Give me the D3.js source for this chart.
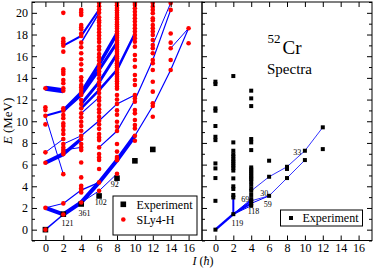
<!DOCTYPE html>
<html>
<head>
<meta charset="utf-8">
<script src="https://cdn.jsdelivr.net/npm/d3@7"></script>
<style>
  body { margin: 0; background: #fff; }
  svg text { font-family: "Liberation Serif", "DejaVu Serif", serif; }
</style>
</head>
<body>
<div id="chart"></div>
<script>
// spins on the x axis
const spins = [0, 2, 4, 6, 8, 10, 12, 14, 16];
const xTicks = [0, 2, 4, 6, 8, 10, 12, 14, 16];
const yTicks = [0, 2, 4, 6, 8, 10, 12, 14, 16, 18, 20];

// SLy4-H levels (MeV) for each spin
const sly0 = [13.04, 11.28, 11.03, 10.5, 9.71, 7.13, 6.17, 2.01, 0];
const sly2 = [20.0, 17.6, 17.37, 17.19, 16.97, 16.42, 14.79, 14.57, 14.36, 13.8, 13.5, 13.04, 12.82,
  11.19, 10.97, 10.57, 10.27, 9.8, 9.56, 9.19, 8.82, 8.36, 7.9, 7.59, 7.34, 7.13, 6.97, 5.12, 2.42, 1.4];
const sly4 = [20.27, 20.02, 19.8, 18.88, 18.67, 18.48, 18.1, 17.87, 17.25, 16.82, 16.27, 15.72, 15.25,
  14.73, 14.05, 13.74, 13.34, 13.13, 12.88, 12.63, 12.42, 11.96, 11.59, 11.19, 10.73, 10.36, 9.95, 9.56,
  9.12, 8.66, 8.36, 7.9, 7.59, 7.34, 6.2, 4.82, 4.05, 3.83, 3.65, 3.43, 2.51];
const sly6 = [20.9, 20.6, 20.3, 20.0, 19.6, 19.3, 19.1, 18.8, 18.5, 18.2, 17.9, 17.6, 17.3, 16.9, 16.6,
  16.2, 15.9, 15.6, 15.25, 14.9, 14.6, 14.3, 13.95, 13.6, 13.3, 12.95, 12.6, 12.2, 11.9, 11.5, 11.1, 10.8,
  10.4, 10.05, 9.7, 9.3, 8.82, 8.51, 8.26, 7.59, 6.97, 6.66, 6.42, 5.59, 4.36, 3.58];
const sly8 = [20.9, 20.7, 20.45, 20.25, 20.0, 19.8, 19.6, 19.4, 19.15, 18.95, 18.75, 18.55, 18.3, 18.1,
  17.9, 17.7, 17.45, 17.25, 17.05, 16.85, 16.6, 16.4, 16.2, 16.0, 15.8, 15.55, 15.35, 15.15, 14.95, 14.75,
  14.5, 14.3, 14.1, 13.9, 13.7, 13.45, 13.2, 13.0, 12.42, 12.0, 11.6, 11.0, 10.6, 9.95, 9.5, 9.1, 7.9,
  7.2, 6.7, 6.55, 6.4, 5.16];
const sly10 = [20.9, 20.73, 20.42, 20.1, 19.8, 19.5, 19.19, 18.88, 18.58, 18.27, 17.96, 17.65, 17.34,
  16.88, 16.11, 15.65, 15.03, 14.27, 13.8, 13.34, 12.42, 12.11, 11.8, 11.03, 10.73, 10.11, 9.65, 9.34,
  8.66, 8.2];
const sly12 = [20.9, 20.57, 20.27, 19.96, 19.5, 19.3, 18.88, 18.58, 18.27, 17.96, 17.5, 17.04, 16.73,
  16.27, 15.65, 15.35, 14.73, 13.65, 12.73, 11.65, 11.4, 10.42];
const sly14 = [20.9, 20.27, 18.1, 17.25, 16.73, 15.65, 14.73];
const sly16 = [18.58, 17.19];
const slyLevels = [sly0, sly2, sly4, sly6, sly8, sly10, sly12, sly14, sly16];

// experimental yrast levels shown in the left panel
const expYrastI = [0, 2, 4, 6, 8, 10, 12];
const expYrastE = [0, 1.43, 2.37, 3.11, 4.75, 6.35, 7.4];

// experimental spectrum (right panel)
const exp0 = [13.65, 13.43, 11.19, 10.97, 9.56, 8.57, 8.26, 6.11, 5.65, 4.76, 2.66, 0];
const exp2 = [14.17, 8.05, 7.28, 6.95, 6.75, 6.5, 6.3, 6.1, 5.9, 5.7, 5.45, 4.73, 4.0, 3.75, 3.2, 2.97, 1.43];
const exp4 = [12.82, 12.11, 11.4, 8.36, 8.05, 7.34, 5.74, 5.55, 5.37, 5.19, 5.0, 4.82, 4.66, 4.45, 4.14,
  3.8, 3.58, 3.2, 2.82, 2.66, 2.42, 2.2];
const exp6 = [6.36, 4.88, 3.12];
const exp8 = [5.8, 5.6, 4.76];
const exp10 = [7.28, 6.42];
const exp12 = [9.44, 7.43];
const expLevels = [exp0, exp2, exp4, exp6, exp8, exp10, exp12];

// transitions: [I, E] chains and stroke weight
const slyPaths = [
  [[[0, 0], [2, 1.4]], 1.5],
  [[[0, 2.01], [2, 1.4]], 4],
  [[[0, 2.01], [2, 2.42]], 1],
  [[[2, 1.4], [4, 2.51], [6, 4.36], [8, 6.4], [10, 8.66]], 4],
  [[[2, 2.42], [4, 3.65], [6, 4.36]], 1.2],
  [[[4, 2.51], [6, 3.58]], 1],
  [[[6, 3.58], [8, 5.16]], 1],
  [[[0, 6.17], [2, 6.97]], 4],
  [[[0, 7.13], [2, 8.36]], 1],
  [[[2, 6.97], [4, 8.36]], 3.5],
  [[[2, 7.34], [4, 7.59]], 1],
  [[[2, 7.9], [4, 8.66]], 1],
  [[[0, 10.5], [2, 5.12]], 1],
  [[[0, 10.5], [2, 10.97]], 2],
  [[[0, 13.04], [2, 12.82]], 5],
  [[[4, 8.66], [6, 10.05], [8, 11.6], [10, 12.42]], 1.2],
  [[[6, 7.59], [8, 9.1], [10, 11.96], [12, 15.65], [14, 20.27]], 1.2],
  [[[10, 8.66], [12, 11.4], [14, 14.73], [16, 18.58]], 1.2],
  [[[2, 10.97], [4, 12.63], [6, 15.25], [8, 18.1]], 3.5],
  [[[2, 10.97], [4, 12.42], [6, 14.73], [8, 17.25]], 3],
  [[[4, 11.59], [6, 13.6], [8, 16.2]], 3],
  [[[4, 11.19], [6, 12.88], [8, 14.75], [10, 18.1]], 2.5],
  [[[4, 10.73], [6, 12.2]], 1.2],
  [[[2, 16.97], [4, 17.87], [6, 20.3]], 2],
  [[[4, 17.25], [6, 20.0]], 1.5],
  [[[12, 17.04], [14, 20.9]], 1],
  [[[14, 16.73], [16, 18.58]], 1]
];
const expPaths = [
  [[[0, 0], [2, 1.43]], 2.5],
  [[[2, 1.43], [2, 3.0]], 2],
  [[[2, 1.43], [4, 2.42]], 2],
  [[[2, 1.43], [4, 2.66]], 1.5],
  [[[2, 1.43], [4, 2.82]], 1],
  [[[2, 1.43], [4, 2.2]], 1],
  [[[4, 2.42], [6, 3.12]], 1],
  [[[4, 2.66], [6, 3.12]], 0.8],
  [[[6, 3.12], [8, 4.76], [10, 6.42]], 0.8],
  [[[4, 3.58], [6, 4.88], [8, 5.8], [10, 7.28], [12, 9.44]], 0.8]
];

// B(E2) labels
const slyLabels = [[1.8, 0.3, "121"], [3.7, 1.3, "361"], [5.5, 2.3, "102"], [7.3, 3.9, "92"]];
const expLabels = [[1.8, 0.35, "119"], [3.6, 1.4, "118"], [2.9, 2.55, "69"], [5.0, 3.1, "30"], [5.4, 2.05, "59"], [8.7, 6.9, "33"]];

const W = 374, H = 268;
const svg = d3.select("#chart").append("svg").attr("width", W).attr("height", H);

const xL = d3.scaleLinear().domain([-1.5, 17.5]).range([32, 202]);
const xR = d3.scaleLinear().domain([-1.5, 17.5]).range([202, 372]);
const y = d3.scaleLinear().domain([-1, 21]).range([240.5, 2]);

const line = (xs) => d3.line().x(d => xs(d[0])).y(d => y(d[1]));

function frame(xs, showLabels) {
  const g = svg.append("g");
  const x0 = xs.range()[0], x1 = xs.range()[1];
  const minor = d3.range(-1, 22, 1);
  // bottom
  g.append("g").attr("transform", `translate(0,${y(-1)})`)
    .call(d3.axisBottom(xs).tickValues(xTicks).tickSize(-5).tickSizeOuter(0).tickPadding(2.5))
    .call(a => a.select(".domain").remove())
    .call(a => a.selectAll("text").style("font-size", "12px").attr("fill", "#000"));
  // top
  g.append("g").attr("transform", `translate(0,${y(21)})`)
    .call(d3.axisTop(xs).tickValues(xTicks).tickSize(-5).tickSizeOuter(0).tickFormat(""))
    .call(a => a.select(".domain").remove());
  // left
  g.append("g").attr("transform", `translate(${x0},0)`)
    .call(d3.axisLeft(y).tickValues(yTicks).tickSize(-5).tickSizeOuter(0).tickPadding(4)
      .tickFormat(showLabels ? d3.format("d") : ""))
    .call(a => a.select(".domain").remove())
    .call(a => a.selectAll("text").style("font-size", "12px").attr("fill", "#000"));
  g.append("g").attr("transform", `translate(${x0},0)`)
    .call(d3.axisLeft(y).tickValues(minor.filter(v => v % 2 !== 0)).tickSize(-3).tickSizeOuter(0).tickFormat(""))
    .call(a => a.select(".domain").remove());
  if (!showLabels) {
    g.append("g").attr("transform", `translate(${x1},0)`)
      .call(d3.axisRight(y).tickValues(yTicks).tickSize(-5).tickSizeOuter(0).tickFormat(""))
      .call(a => a.select(".domain").remove());
    g.append("g").attr("transform", `translate(${x1},0)`)
      .call(d3.axisRight(y).tickValues(minor.filter(v => v % 2 !== 0)).tickSize(-3).tickSizeOuter(0).tickFormat(""))
      .call(a => a.select(".domain").remove());
  }
  g.append("rect").attr("x", x0).attr("y", y(21)).attr("width", x1 - x0).attr("height", y(-1) - y(21))
    .attr("fill", "none").attr("stroke", "#000").attr("stroke-width", 1);
}

// left panel
svg.append("clipPath").attr("id", "clipL").append("rect")
  .attr("x", 32).attr("y", 2).attr("width", 170).attr("height", 238.5);
const gL = svg.append("g").attr("clip-path", "url(#clipL)");
gL.selectAll("path.tr").data(slyPaths).join("path")
  .attr("d", d => line(xL)(d[0])).attr("fill", "none")
  .attr("stroke", "#0000ff").attr("stroke-width", d => d[1]);
gL.selectAll("rect.exp").data(expYrastI).join("rect")
  .attr("x", (d) => xL(d) - 2.8).attr("y", (d, i) => y(expYrastE[i]) - 2.8)
  .attr("width", 5.6).attr("height", 5.6).attr("fill", "#000");
const slyPts = spins.flatMap((s, i) => slyLevels[i].map(e => [s, e]));
gL.selectAll("circle").data(slyPts).join("circle")
  .attr("cx", d => xL(d[0])).attr("cy", d => y(d[1])).attr("r", 2.3).attr("fill", "#ff0000");
svg.selectAll("text.bl").data(slyLabels).join("text")
  .attr("x", d => xL(d[0])).attr("y", d => y(d[1])).text(d => d[2])
  .style("font-size", "8px").attr("fill", "#000");

// right panel
const gR = svg.append("g");
gR.selectAll("path.tr").data(expPaths).join("path")
  .attr("d", d => line(xR)(d[0])).attr("fill", "none")
  .attr("stroke", "#0000ff").attr("stroke-width", d => d[1]);
const expPts = expYrastI.flatMap((s, i) => expLevels[i].map(e => [s, e]));
gR.selectAll("rect").data(expPts).join("rect")
  .attr("x", d => xR(d[0]) - 2).attr("y", d => y(d[1]) - 2)
  .attr("width", 4).attr("height", 4).attr("fill", "#000");
svg.selectAll("text.br").data(expLabels).join("text")
  .attr("x", d => xR(d[0])).attr("y", d => y(d[1])).text(d => d[2])
  .style("font-size", "8px").attr("fill", "#000");

frame(xL, true);
frame(xR, false);

// legends
const legL = svg.append("g");
legL.append("rect").attr("x", 113).attr("y", 196).attr("width", 84).attr("height", 39)
  .attr("fill", "#fff").attr("stroke", "#000");
legL.append("rect").attr("x", 120.5).attr("y", 201.5).attr("width", 5.6).attr("height", 5.6).attr("fill", "#000");
legL.append("text").attr("x", 136.5).attr("y", 208.5).text("Experiment").style("font-size", "12px");
legL.append("circle").attr("cx", 123.3).attr("cy", 219.5).attr("r", 2.3).attr("fill", "#ff0000");
legL.append("text").attr("x", 136.5).attr("y", 223.5).text("SLy4-H").style("font-size", "12px");

const legR = svg.append("g");
legR.append("rect").attr("x", 280.5).attr("y", 210).attr("width", 82).attr("height", 16)
  .attr("fill", "#fff").attr("stroke", "#000");
legR.append("rect").attr("x", 289).attr("y", 216).attr("width", 4).attr("height", 4).attr("fill", "#000");
legR.append("text").attr("x", 302.5).attr("y", 222).text("Experiment").style("font-size", "12px");

// titles
svg.append("text").attr("x", 267.5).attr("y", 42.5).text("52").style("font-size", "13px");
svg.append("text").attr("x", 282.5).attr("y", 53.5).text("Cr").style("font-size", "19px");
svg.append("text").attr("x", 267).attr("y", 73.5).text("Spectra").style("font-size", "15px");

const yl = svg.append("text").attr("transform", "translate(12,121) rotate(-90)")
  .attr("text-anchor", "middle").style("font-size", "13px");
yl.append("tspan").style("font-style", "italic").text("E");
yl.append("tspan").text(" (MeV)");

const xl = svg.append("text").attr("x", 203).attr("y", 265).attr("text-anchor", "middle").style("font-size", "12px");
xl.append("tspan").style("font-style", "italic").text("I");
xl.append("tspan").text(" (");
xl.append("tspan").style("font-style", "italic").text("ħ");
xl.append("tspan").text(")");
</script>
</body>
</html>
